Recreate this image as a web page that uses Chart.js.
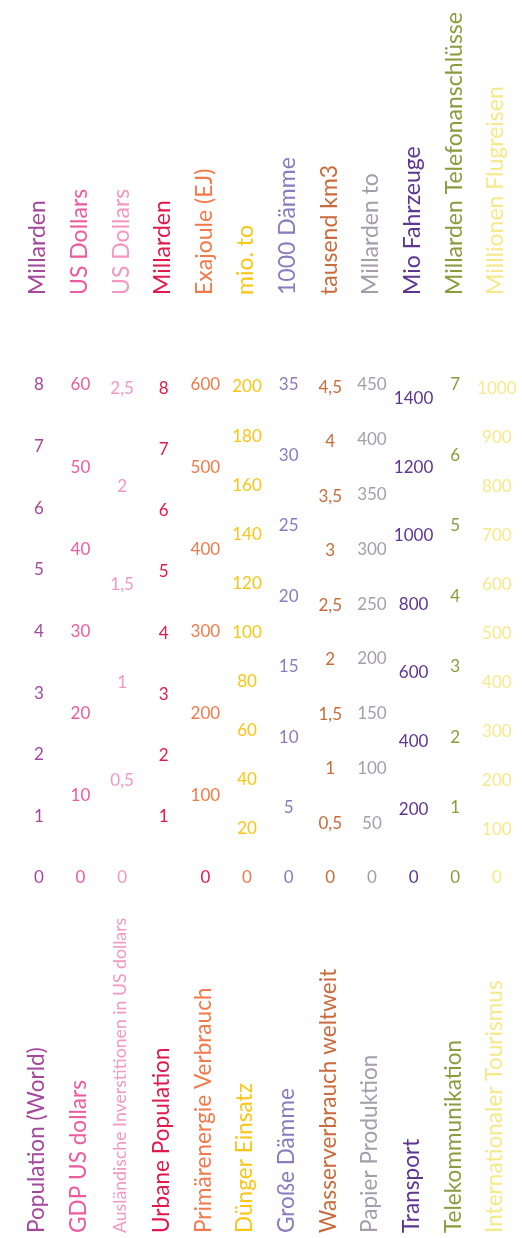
<!DOCTYPE html>
<html>
<head>
<meta charset="utf-8">
<script src="https://cdn.jsdelivr.net/npm/chart.js@4"></script>
<style>
  body { margin: 0; background: #fff; }
  #wrap { width: 522px; height: 1238px; }
</style>
</head>
<body>
<div id="wrap"><canvas id="chart"></canvas></div>
<script>
// one vertical axis per indicator
const titles = ['Population (World)', 'GDP US dollars', 'Ausländische Inverstitionen in US dollars',
  'Urbane Population', 'Primärenergie Verbrauch', 'Dünger Einsatz', 'Große Dämme',
  'Wasserverbrauch weltweit', 'Papier Produktion', 'Transport', 'Telekommunikation',
  'Internationaler Tourismus'];
const units = ['Millarden', 'US Dollars', 'US Dollars', 'Millarden', 'Exajoule (EJ)', 'mio. to',
  '1000 Dämme', 'tausend km3', 'Millarden to', 'Mio Fahrzeuge', 'Millarden Telefonanschlüsse',
  'Milllionen Flugreisen'];
const axisMax = [8, 60, 2.52, 8.05, 600, 200.8, 35, 4.52, 450, 1440, 7, 1008];
const tickStep = [1, 10, 0.5, 1, 100, 20, 5, 0.5, 50, 200, 1, 100];
const colors = ['#a4479d', '#ee5a9f', '#f497c2', '#e3194b', '#f27a4a', '#fcc515',
  '#8b7ac0', '#c96b3c', '#a69cac', '#5e3593', '#8d9b3f', '#f6e98a'];

const FONT = 'Lato, "Open Sans", sans-serif';
const COL_W = 41.64;
const tickFont = { family: FONT, size: 17 };

const fmt = v => String(Math.round(v * 100) / 100).replace('.', ',');

function tickValues(i) {
  const vals = [];
  for (let k = 0; k * tickStep[i] <= axisMax[i] + 1e-9; k++) vals.push(Math.round(k * tickStep[i] * 100) / 100);
  return vals;
}

// measure the widest tick label so it can be centred in its column
const mctx = document.createElement('canvas').getContext('2d');
mctx.font = tickFont.size + 'px ' + FONT;
const widest = i => Math.max(...tickValues(i).map(v => mctx.measureText(fmt(v)).width));

const scales = { x: { display: false } };
titles.forEach((t, i) => {
  scales['y' + i] = {
    type: 'linear',
    position: 'left',
    weight: 100 - i,
    min: 0,
    max: axisMax[i],
    grid: { display: false, drawTicks: false, tickLength: 0 },
    border: { display: false },
    afterBuildTicks: s => { s.ticks = tickValues(i).map(v => ({ value: v })); },
    ticks: {
      autoSkip: false,
      crossAlign: 'center',
      padding: COL_W / 2 - widest(i) / 2,
      font: tickFont,
      callback: v => fmt(v),
      color: ctx => {
        // the zero labels of urban population / primary energy sit one column to the right
        if (ctx.tick && ctx.tick.value === 0) {
          if (i === 3) return 'rgba(0,0,0,0)';
          if (i === 4) return colors[3];
          if (i === 5) return colors[4];
        }
        return colors[i];
      }
    },
    afterFit: s => { s.width = COL_W; }
  };
});

const textPlugin = {
  id: 'columnTexts',
  afterDraw(chart) {
    const ctx = chart.ctx;
    titles.forEach((t, i) => {
      const s = chart.scales['y' + i];
      const x = (s.left + s.right) / 2;
      ctx.save();
      ctx.fillStyle = colors[i];
      ctx.textAlign = 'left';
      ctx.textBaseline = 'middle';
      // unit label above the axis
      ctx.save();
      ctx.translate(x - 1, 295);
      ctx.rotate(-Math.PI / 2);
      ctx.font = '23px ' + FONT;
      ctx.fillText(units[i], 0, 0);
      ctx.restore();
      // title below the axis
      ctx.translate(x - 2, 1233);
      ctx.rotate(-Math.PI / 2);
      ctx.font = (i === 2 ? '17.7px ' : '22.6px ') + FONT;
      ctx.fillText(t, 0, 0);
      ctx.restore();
    });
  }
};

new Chart(document.getElementById('chart'), {
  type: 'line',
  data: { labels: [], datasets: [] },
  options: {
    responsive: true,
    maintainAspectRatio: false,
    animation: false,
    layout: { padding: { left: 18, right: 0, top: 385, bottom: 360 } },
    plugins: { legend: { display: false }, tooltip: { enabled: false } },
    scales: scales
  },
  plugins: [textPlugin]
});
</script>
</body>
</html>
